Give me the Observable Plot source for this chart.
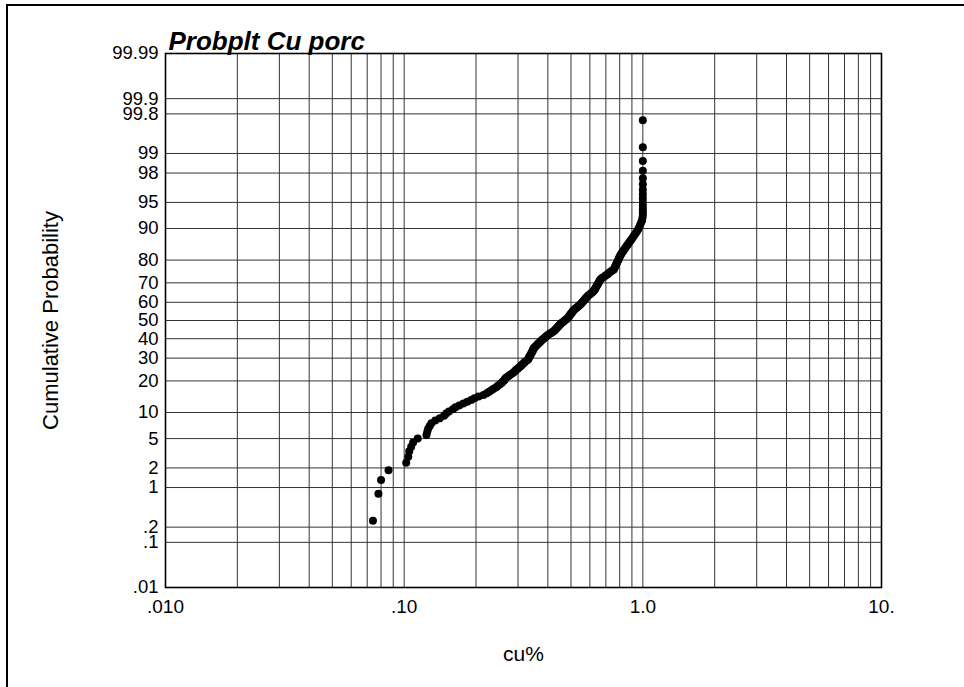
<!DOCTYPE html>
<html>
<head>
<meta charset="utf-8">
<script src="https://cdn.jsdelivr.net/npm/d3@7"></script>
<script src="https://cdn.jsdelivr.net/npm/@observablehq/plot@0.6"></script>
<style>
  html, body { margin: 0; padding: 0; background: #fff; }
  #wrap { position: relative; width: 964px; height: 687px; overflow: hidden; }
  #border { position: absolute; left: 6px; top: 4px; width: 980px; height: 700px;
            border-left: 2px solid #000; border-top: 2px solid #000; }
  #chart { position: absolute; left: 0; top: 0; }
</style>
</head>
<body>
<div id="wrap"><div id="border"></div><div id="chart"></div></div>
<script>
// Sorted Cu (%) sample values
const cuPct = [
  0.074, 0.078, 0.080, 0.086, 0.102, 0.104, 0.105, 0.107, 0.109, 0.114,
  0.124, 0.125, 0.126, 0.128, 0.130, 0.135, 0.141, 0.147, 0.150, 0.154,
  0.160, 0.164, 0.170, 0.177, 0.184, 0.191, 0.197, 0.205, 0.215, 0.222,
  0.227, 0.232, 0.237, 0.243, 0.247, 0.252, 0.256, 0.259, 0.263, 0.264,
  0.268, 0.273, 0.277, 0.282, 0.287, 0.291, 0.294, 0.298, 0.302, 0.306,
  0.310, 0.313, 0.317, 0.320, 0.324, 0.330, 0.332, 0.333, 0.335, 0.337,
  0.339, 0.341, 0.343, 0.345, 0.346, 0.348, 0.349, 0.352, 0.356, 0.359,
  0.363, 0.366, 0.370, 0.373, 0.377, 0.381, 0.386, 0.390, 0.394, 0.399,
  0.404, 0.410, 0.416, 0.421, 0.427, 0.430, 0.434, 0.438, 0.441, 0.445,
  0.449, 0.453, 0.458, 0.463, 0.468, 0.473, 0.479, 0.484, 0.488, 0.491,
  0.494, 0.498, 0.501, 0.505, 0.508, 0.512, 0.517, 0.522, 0.528, 0.534,
  0.540, 0.546, 0.551, 0.556, 0.560, 0.565, 0.570, 0.574, 0.579, 0.584,
  0.589, 0.597, 0.604, 0.611, 0.618, 0.623, 0.628, 0.631, 0.635, 0.639,
  0.642, 0.646, 0.650, 0.654, 0.658, 0.662, 0.667, 0.677, 0.688, 0.698,
  0.710, 0.718, 0.729, 0.740, 0.754, 0.759, 0.763, 0.768, 0.772, 0.777,
  0.781, 0.786, 0.791, 0.795, 0.800, 0.806, 0.813, 0.821, 0.829, 0.837,
  0.846, 0.855, 0.865, 0.875, 0.886, 0.897, 0.908, 0.919, 0.930, 0.943,
  0.955, 0.964, 0.973, 0.983, 0.993, 0.997, 1.0, 1.0, 1.0, 1.0,
  1.0, 1.0, 1.0, 1.0, 1.0, 1.0, 1.0, 1.0, 1.0, 1.0
];

// Probability grid / tick values (cumulative %)
const yTickValues = [0.01, 0.1, 0.2, 1, 2, 5, 10, 20, 30, 40, 50, 60, 70, 80, 90, 95, 98, 99, 99.8, 99.9, 99.99];
const yTickLabels = [".01", ".1", ".2", "1", "2", "5", "10", "20", "30", "40", "50", "60", "70", "80", "90", "95", "98", "99", "99.8", "99.9", "99.99"];
// Log x grid and labels
const xGridValues = [
  0.01, 0.02, 0.03, 0.04, 0.05, 0.06, 0.07, 0.08, 0.09,
  0.1, 0.2, 0.3, 0.4, 0.5, 0.6, 0.7, 0.8, 0.9,
  1, 2, 3, 4, 5, 6, 7, 8, 9, 10
];
const xTickValues = [0.01, 0.1, 1, 10];
const xTickLabels = [".010", ".10", "1.0", "10."];

const title = "Probplt Cu porc";
const xLabel = "cu%";
const yLabel = "Cumulative Probability";

// inverse standard normal CDF (Acklam) for the probability axis
function probit(p) {
  const a = [-3.969683028665376e+01, 2.209460984245205e+02, -2.759285104469687e+02, 1.383577518672690e+02, -3.066479806614716e+01, 2.506628277459239e+00];
  const b = [-5.447609879822406e+01, 1.615858368580409e+02, -1.556989798598866e+02, 6.680131188771972e+01, -1.328068155288572e+01];
  const c = [-7.784894002430293e-03, -3.223964580411365e-01, -2.400758277161838e+00, -2.549732539343734e+00, 4.374664141464968e+00, 2.938163982698783e+00];
  const d = [7.784695709041462e-03, 3.224671290700398e-01, 2.445134137142996e+00, 3.754408661907416e+00];
  const pl = 0.02425, ph = 1 - pl;
  if (p < pl) {
    const q = Math.sqrt(-2 * Math.log(p));
    return (((((c[0]*q+c[1])*q+c[2])*q+c[3])*q+c[4])*q+c[5]) / ((((d[0]*q+d[1])*q+d[2])*q+d[3])*q+1);
  }
  if (p > ph) {
    const q = Math.sqrt(-2 * Math.log(1 - p));
    return -(((((c[0]*q+c[1])*q+c[2])*q+c[3])*q+c[4])*q+c[5]) / ((((d[0]*q+d[1])*q+d[2])*q+d[3])*q+1);
  }
  const q = p - 0.5, r = q * q;
  return (((((a[0]*r+a[1])*r+a[2])*r+a[3])*r+a[4])*r+a[5])*q / (((((b[0]*r+b[1])*r+b[2])*r+b[3])*r+b[4])*r+1);
}

const n = cuPct.length;
const points = cuPct.map((v, i) => ({cu: v, z: probit((i + 0.5) / n)}));
const yTickZ = yTickValues.map(v => probit(v / 100));
const yLabelByZ = new Map(yTickZ.map((z, i) => [z, yTickLabels[i]]));
const xLabelByV = new Map(xTickValues.map((v, i) => [v, xTickLabels[i]]));

const font = "'Liberation Sans', Arial, Helvetica, sans-serif";

const chart = Plot.plot({
  width: 964,
  height: 687,
  marginLeft: 165,
  marginRight: 83,
  marginTop: 53,
  marginBottom: 100,
  style: {fontFamily: font, fontSize: "19px", background: "transparent", color: "#000"},
  x: {type: "log", domain: [0.01, 10], axis: null},
  y: {type: "linear", domain: [probit(0.0001), probit(0.9999)], axis: null},
  marks: [
    Plot.ruleX(xGridValues, {stroke: "#333", strokeWidth: 1}),
    Plot.ruleY(yTickZ, {stroke: "#333", strokeWidth: 1}),
    Plot.frame({stroke: "#000", strokeWidth: 1.6}),
    Plot.axisX(xTickValues, {anchor: "bottom", tickSize: 0, tickPadding: 12, tickFormat: d => xLabelByV.get(d), fontSize: 19, label: null}),
    Plot.axisY(yTickZ, {anchor: "left", tickSize: 0, tickPadding: 7, tickFormat: d => yLabelByZ.get(d), fontSize: 18.5, label: null}),
    Plot.dot(points, {x: "cu", y: "z", r: 4, fill: "#000", stroke: "none"}),
    Plot.text([title], {text: d => d, frameAnchor: "top-left", textAnchor: "start", lineAnchor: "bottom", dx: 3, dy: -4, fontSize: 26, fontWeight: "bold", fontStyle: "italic"}),
    Plot.text([xLabel], {text: d => d, frameAnchor: "bottom", textAnchor: "middle", dy: 73, fontSize: 21}),
    Plot.text([yLabel], {text: d => d, frameAnchor: "left", textAnchor: "middle", rotate: -90, dx: -115, fontSize: 22})
  ]
});
document.getElementById("chart").appendChild(chart);
</script>
</body>
</html>
